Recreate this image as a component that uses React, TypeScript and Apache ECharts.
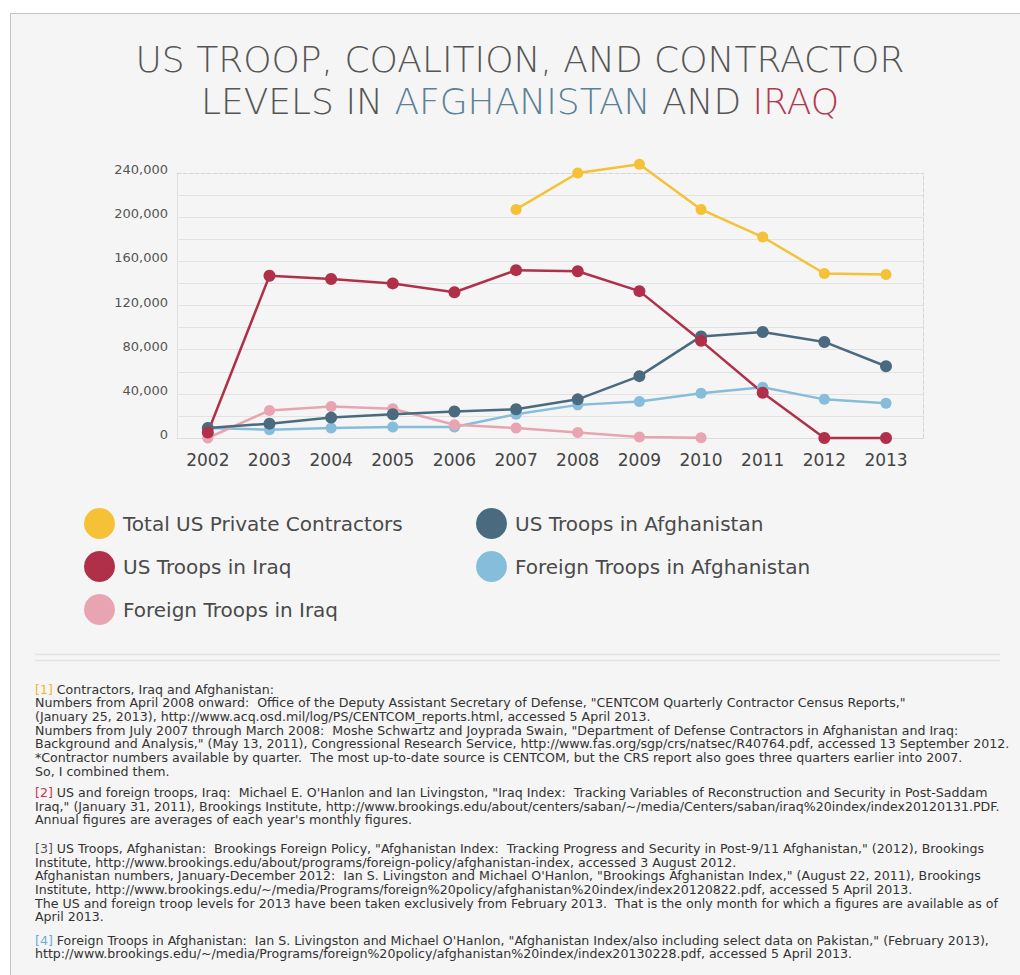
import React, { useEffect, useRef } from "react";
import * as echarts from "echarts";

const years = [2002, 2003, 2004, 2005, 2006, 2007, 2008, 2009, 2010, 2011, 2012, 2013];
const contractors = [null, null, null, null, null, 207000, 240000, 248000, 207000, 182000, 149000, 148000];
const usIraq = [5000, 147000, 144000, 140000, 132000, 152000, 151000, 133000, 88000, 41000, 0, 0];
const foreignIraq = [0, 25000, 28500, 26500, 12000, 9000, 5000, 1000, 300, null, null, null];
const usAfghanistan = [9000, 13000, 18500, 21500, 24000, 26000, 35000, 56000, 92000, 96000, 87000, 65000];
const foreignAfghanistan = [9000, 7500, 9000, 10000, 10000, 21500, 30000, 33000, 40500, 46000, 35000, 31500];

const seriesNames = [
  "Total US Private Contractors",
  "US Troops in Iraq",
  "Foreign Troops in Iraq",
  "US Troops in Afghanistan",
  "Foreign Troops in Afghanistan",
];

const titleLine1 = "US TROOP, COALITION, AND CONTRACTOR";
const titleLine2 = ["LEVELS IN ", "AFGHANISTAN", " AND ", "IRAQ"];

const notes1 = [
  "Contractors, Iraq and Afghanistan:",
  "Numbers from April 2008 onward:  Office of the Deputy Assistant Secretary of Defense, \"CENTCOM Quarterly Contractor Census Reports,\"",
  "(January 25, 2013), http://www.acq.osd.mil/log/PS/CENTCOM_reports.html, accessed 5 April 2013.",
  "Numbers from July 2007 through March 2008:  Moshe Schwartz and Joyprada Swain, \"Department of Defense Contractors in Afghanistan and Iraq:",
  "Background and Analysis,\" (May 13, 2011), Congressional Research Service, http://www.fas.org/sgp/crs/natsec/R40764.pdf, accessed 13 September 2012.",
  "*Contractor numbers available by quarter.  The most up-to-date source is CENTCOM, but the CRS report also goes three quarters earlier into 2007.",
  "So, I combined them.",
];
const notes2 = [
  "US and foreign troops, Iraq:  Michael E. O'Hanlon and Ian Livingston, \"Iraq Index:  Tracking Variables of Reconstruction and Security in Post-Saddam",
  "Iraq,\" (January 31, 2011), Brookings Institute, http://www.brookings.edu/about/centers/saban/~/media/Centers/saban/iraq%20index/index20120131.PDF.",
  "Annual figures are averages of each year's monthly figures.",
];
const notes3 = [
  "US Troops, Afghanistan:  Brookings Foreign Policy, \"Afghanistan Index:  Tracking Progress and Security in Post-9/11 Afghanistan,\" (2012), Brookings",
  "Institute, http://www.brookings.edu/about/programs/foreign-policy/afghanistan-index, accessed 3 August 2012.",
  "Afghanistan numbers, January-December 2012:  Ian S. Livingston and Michael O'Hanlon, \"Brookings Afghanistan Index,\" (August 22, 2011), Brookings",
  "Institute, http://www.brookings.edu/~/media/Programs/foreign%20policy/afghanistan%20index/index20120822.pdf, accessed 5 April 2013.",
  "The US and foreign troop levels for 2013 have been taken exclusively from February 2013.  That is the only month for which a figures are available as of",
  "April 2013.",
];
const notes4 = [
  "Foreign Troops in Afghanistan:  Ian S. Livingston and Michael O'Hanlon, \"Afghanistan Index/also including select data on Pakistan,\" (February 2013),",
  "http://www.brookings.edu/~/media/Programs/foreign%20policy/afghanistan%20index/index20130228.pdf, accessed 5 April 2013.",
];

const C_YELLOW = "#f5c136";
const C_RED = "#b0304a";
const C_DARK = "#4a6b7f";
const C_LIGHT = "#86bddb";
const C_PINK = "#e9a4b1";

export default function App() {
  const ref = useRef<HTMLDivElement>(null);

  useEffect(() => {
    document.body.style.margin = "0";
    if (!ref.current) return;
    const chart = echarts.init(ref.current, undefined, { renderer: "svg" });

    const toPairs = (vals: (number | null)[]) =>
      years.map((y, i) => [y, vals[i]]).filter((d) => d[1] !== null);

    const mk = (name: string, vals: (number | null)[], color: string, size: number) => ({
      type: "line",
      name,
      data: toPairs(vals),
      symbol: "circle",
      symbolSize: size,
      showSymbol: true,
      clip: false,
      lineStyle: { color, width: 2.5 },
      itemStyle: { color },
      emphasis: { disabled: true },
    });

    const noteFont = "12.6px 'DejaVu Sans'";
    const noteLH = 13.68;
    const noteBlocks = [
      { tag: "[1]", color: "#f0b828", lines: notes1, y0: 689 },
      { tag: "[2]", color: "#c33a52", lines: notes2, y0: 792.5 },
      { tag: "[3]", color: "#555555", lines: notes3, y0: 848.5 },
      { tag: "[4]", color: "#6aaed6", lines: notes4, y0: 940 },
    ];
    const noteEls: any[] = [];
    noteBlocks.forEach((b) => {
      b.lines.forEach((ln, i) => {
        if (i === 0) {
          noteEls.push({
            type: "text",
            x: 35,
            y: b.y0,
            style: {
              text: "{t|" + b.tag + "} {b|" + ln + "}",
              font: noteFont,
              fill: "#333",
              verticalAlign: "middle",
              align: "left",
              rich: {
                t: { fill: b.color, font: noteFont },
                b: { fill: "#333", font: noteFont },
              },
            },
          });
        } else {
          noteEls.push({
            type: "text",
            x: 35,
            y: b.y0 + i * noteLH,
            style: {
              text: ln,
              font: noteFont,
              fill: "#333",
              verticalAlign: "middle",
              align: "left",
            },
          });
        }
      });
    });

    const titleFont = "200 36px 'DejaVu Sans'";
    const legendText = { fontSize: 20, color: "#4a4a4a", fontFamily: "DejaVu Sans", padding: [0, 0, 0, 3] };

    const option: any = {
      animation: false,
      backgroundColor: "#f5f5f5",
      grid: { left: 177, right: 97, top: 173, bottom: 537, containLabel: false },
      xAxis: [
        {
          type: "value",
          min: 2001.5,
          max: 2013.6,
          axisLine: { show: true, onZero: false, lineStyle: { color: "#dcdcdc", width: 1 } },
          axisTick: { show: false },
          splitLine: { show: false },
          axisLabel: {
            customValues: years,
            formatter: (v: number) => String(v),
            fontSize: 17,
            color: "#444",
            fontFamily: "DejaVu Sans",
            margin: 13,
          },
        },
        {
          type: "value",
          position: "top",
          min: 2001.5,
          max: 2013.6,
          axisLine: { show: true, onZero: false, lineStyle: { color: "#d6d6d6", type: "dashed" } },
          axisTick: { show: false },
          axisLabel: { show: false },
          splitLine: { show: false },
        },
      ],
      yAxis: [
        {
          type: "value",
          min: 0,
          max: 240000,
          interval: 20000,
          axisLine: { show: true, onZero: false, lineStyle: { color: "#e0e0e0" } },
          axisTick: { show: false },
          splitLine: { show: true, showMaxLine: false, lineStyle: { color: "#e2e2e2", width: 1 } },
          axisLabel: {
            formatter: (v: number) => (v % 40000 === 0 ? v.toLocaleString("en-US") : ""),
            fontSize: 13,
            color: "#555",
            fontFamily: "DejaVu Sans",
            margin: 9,
            verticalAlign: "bottom",
            lineHeight: 7,
          },
        },
        {
          type: "value",
          position: "right",
          min: 0,
          max: 240000,
          axisLine: { show: true, onZero: false, lineStyle: { color: "#d6d6d6", type: "dashed" } },
          axisTick: { show: false },
          axisLabel: { show: false },
          splitLine: { show: false },
        },
      ],
      legend: [
        {
          data: [seriesNames[0], seriesNames[1], seriesNames[2]],
          orient: "vertical",
          left: 79,
          top: 503,
          icon: "circle",
          itemWidth: 31,
          itemHeight: 31,
          itemGap: 12,
          selectedMode: false,
          textStyle: legendText,
        },
        {
          data: [seriesNames[3], seriesNames[4]],
          orient: "vertical",
          left: 471,
          top: 503,
          icon: "circle",
          itemWidth: 31,
          itemHeight: 31,
          itemGap: 12,
          selectedMode: false,
          textStyle: legendText,
        },
      ],
      series: [
        mk(seriesNames[4], foreignAfghanistan, C_LIGHT, 11),
        mk(seriesNames[2], foreignIraq, C_PINK, 11),
        mk(seriesNames[3], usAfghanistan, C_DARK, 12),
        mk(seriesNames[1], usIraq, C_RED, 12),
        mk(seriesNames[0], contractors, C_YELLOW, 11),
      ],
      graphic: [
        { type: "rect", shape: { x: 0, y: 0, width: 1020, height: 13 }, style: { fill: "#ffffff" }, silent: true },
        { type: "rect", shape: { x: 0, y: 0, width: 10, height: 975 }, style: { fill: "#ffffff" }, silent: true },
        { type: "line", shape: { x1: 10, y1: 13.5, x2: 1020, y2: 13.5 }, style: { stroke: "#c4c4c4", lineWidth: 1 }, silent: true },
        { type: "line", shape: { x1: 10.5, y1: 13, x2: 10.5, y2: 975 }, style: { stroke: "#c4c4c4", lineWidth: 1 }, silent: true },
        {
          type: "text",
          x: 520,
          y: 59,
          style: { text: titleLine1, font: titleFont, fill: "#555", align: "center", verticalAlign: "middle", lineHeight: 36 },
        },
        {
          type: "text",
          x: 520,
          y: 101.5,
          style: {
            text:
              "{a|" + titleLine2[0] + "}{b|" + titleLine2[1] + "}{a|" + titleLine2[2] + "}{c|" + titleLine2[3] + "}",
            font: titleFont,
            fill: "#555",
            align: "center",
            verticalAlign: "middle",
            lineHeight: 36,
            rich: {
              a: { fill: "#555", font: titleFont, lineHeight: 36 },
              b: { fill: "#5a8196", font: titleFont, lineHeight: 36 },
              c: { fill: "#b3384f", font: titleFont, lineHeight: 36 },
            },
          },
        },
        { type: "line", shape: { x1: 35, y1: 654.5, x2: 1000, y2: 654.5 }, style: { stroke: "#e3e3e3", lineWidth: 1.5 }, silent: true },
        { type: "line", shape: { x1: 35, y1: 660.5, x2: 1000, y2: 660.5 }, style: { stroke: "#e3e3e3", lineWidth: 1.5 }, silent: true },
        ...noteEls,
      ],
    };

    chart.setOption(option);
    return () => chart.dispose();
  }, []);

  return <div ref={ref} style={{ width: 1020, height: 975 }} />;
}
